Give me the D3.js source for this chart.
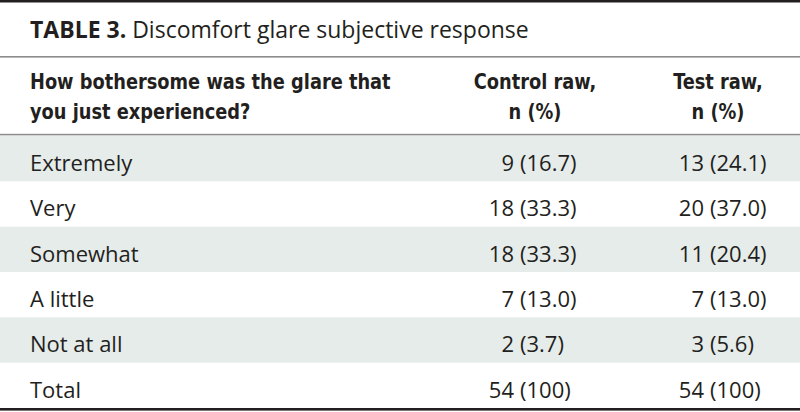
<!DOCTYPE html>
<html>
<head>
<meta charset="utf-8">
<script src="https://cdn.jsdelivr.net/npm/d3@7"></script>
<style>
  html, body { margin: 0; padding: 0; background: #ffffff; }
  svg { display: block; }
</style>
</head>
<body>
<svg id="chart" width="800" height="412"></svg>
<script>
// ---- data ----
const titleLabel = "TABLE 3.";
const titleText = "Discomfort glare subjective response";
const headerQuestion = ["How bothersome was the glare that", "you just experienced?"];
const headerControl = ["Control raw,", "n (%)"];
const headerTest = ["Test raw,", "n (%)"];
const categories = ["Extremely", "Very", "Somewhat", "A little", "Not at all", "Total"];
const controlN = [9, 18, 18, 7, 2, 54];
const controlPct = ["16.7", "33.3", "33.3", "13.0", "3.7", "100"];
const testN = [13, 20, 11, 7, 3, 54];
const testPct = ["24.1", "37.0", "20.4", "13.0", "5.6", "100"];

// ---- layout ----
const W = 800, H = 412;
const textColor = "#231f20";
const bandColor = "#e6ecea";
const ruleGray = "#8c8c8c";
const bodyFont = "'Open Sans', 'Liberation Sans', sans-serif";
const headFont = "'Liberation Sans Narrow', 'DejaVu Sans Condensed', 'Liberation Sans', sans-serif";
const headSqueeze = 0.92;
const leftX = 30;

const svg = d3.select("#chart");

const y = d3.scaleBand().domain(categories).range([136, 408]).paddingInner(0).paddingOuter(0);

const columns = [
  { key: "control", n: controlN, pct: controlPct, header: headerControl, split: 514, gap: 6, headX: 535 },
  { key: "test", n: testN, pct: testPct, header: headerTest, split: 704, gap: 6, headX: 718 }
];

// banded rows
svg.append("g").selectAll("rect")
  .data(categories.filter((d, i) => i % 2 === 0))
  .join("rect")
  .attr("x", 0).attr("width", W)
  .attr("y", d => y(d)).attr("height", y.bandwidth())
  .attr("fill", bandColor);

// rules
svg.append("rect").attr("x", 0).attr("y", 0).attr("width", W).attr("height", 2.5).attr("fill", textColor);
svg.append("rect").attr("x", 0).attr("y", 56).attr("width", W).attr("height", 1.6).attr("fill", ruleGray);
svg.append("rect").attr("x", 0).attr("y", 133.8).attr("width", W).attr("height", 1.6).attr("fill", ruleGray);
svg.append("rect").attr("x", 0).attr("y", 408).attr("width", W).attr("height", 2.6).attr("fill", textColor);

// title
const t = svg.append("text")
  .attr("x", leftX).attr("y", 38)
  .attr("font-family", bodyFont).attr("font-size", 23).attr("fill", textColor);
t.append("tspan").attr("font-weight", "bold").text(titleLabel);
t.append("tspan").text(" " + titleText);

// header (condensed look: glyphs squeezed horizontally)
const hdr = svg.append("g").attr("font-family", headFont).attr("font-weight", "bold")
  .attr("font-size", 21.5).attr("fill", textColor);
const lineY = [89, 119];
function squeeze(sel) {
  sel.each(function () {
    const len = this.getComputedTextLength();
    d3.select(this).attr("textLength", len * headSqueeze).attr("lengthAdjust", "spacingAndGlyphs");
  });
}
hdr.selectAll("text.q").data(headerQuestion).join("text")
  .attr("class", "q").attr("x", leftX).attr("y", (d, i) => lineY[i]).text(d => d)
  .call(squeeze);
columns.forEach(c => {
  hdr.selectAll("text.h-" + c.key).data(c.header).join("text")
    .attr("class", "h-" + c.key)
    .attr("x", c.headX).attr("y", (d, i) => lineY[i])
    .attr("text-anchor", "middle").text(d => d)
    .call(squeeze);
});

// body rows
const body = svg.append("g").attr("font-family", bodyFont).attr("font-size", 22).attr("fill", textColor);
const baseOff = 35;
body.selectAll("text.cat").data(categories).join("text")
  .attr("class", "cat").attr("x", leftX).attr("y", d => y(d) + baseOff).text(d => d);

columns.forEach(c => {
  body.selectAll("text.n-" + c.key).data(categories).join("text")
    .attr("class", "n-" + c.key)
    .attr("x", c.split).attr("y", d => y(d) + baseOff)
    .attr("text-anchor", "end")
    .text((d, i) => c.n[i]);
  body.selectAll("text.p-" + c.key).data(categories).join("text")
    .attr("class", "p-" + c.key)
    .attr("x", c.split + c.gap).attr("y", d => y(d) + baseOff)
    .attr("text-anchor", "start")
    .text((d, i) => "(" + c.pct[i] + ")");
});
</script>
</body>
</html>
